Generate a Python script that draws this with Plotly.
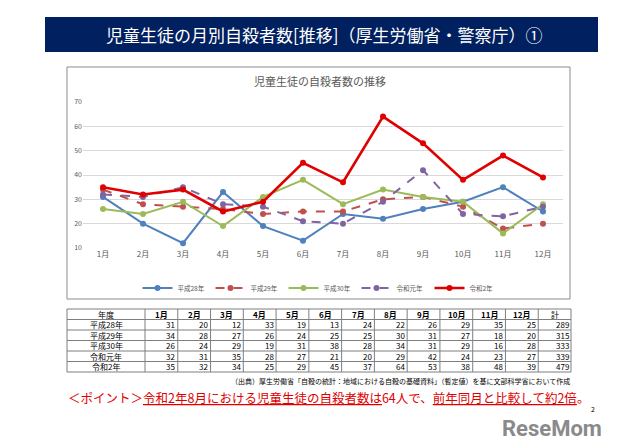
import plotly.graph_objects as go

months = ["1月", "2月", "3月", "4月", "5月", "6月", "7月", "8月", "9月", "10月", "11月", "12月"]
series_names = ["平成28年", "平成29年", "平成30年", "令和元年", "令和2年"]
h28 = [31, 20, 12, 33, 19, 13, 24, 22, 26, 29, 35, 25]
h29 = [34, 28, 27, 26, 24, 25, 25, 30, 31, 27, 18, 20]
h30 = [26, 24, 29, 19, 31, 38, 28, 34, 31, 29, 16, 28]
r1 = [32, 31, 35, 28, 27, 21, 20, 29, 42, 24, 23, 27]
r2 = [35, 32, 34, 25, 29, 45, 37, 64, 53, 38, 48, 39]
totals = [289, 315, 333, 339, 479]
y_ticks = [10, 20, 30, 40, 50, 60, 70]
table_header = ["年度"] + months + ["計"]

page_title = "児童生徒の月別自殺者数[推移]（厚生労働省・警察庁）①"
chart_title = "児童生徒の自殺者数の推移"
source_note = "（出典）厚生労働省「自殺の統計：地域における自殺の基礎資料」（暫定値）を基に文部科学省において作成"

values = [h28, h29, h30, r1, r2]
colors = ["#4F81BD", "#C0504D", "#9BBB59", "#8064A2", "#E00000"]
dashes = ["solid", "dash", "solid", "dash", "solid"]
widths = [2, 2, 2, 2, 2.6]

FONT = "Noto Sans CJK JP"
# page body has an 8px margin; figure drawn at page (8, 8)
OFF = 8
W, H = 640 - OFF, 447 - OFF
PL, PR, PT, PB = 83, 563, 102, 248  # plot area in page pixels
PW = PR - PL
PH = PB - PT
L = PL - OFF
T = PT - OFF
R = W - (PR - OFF)
B = H - (PB - OFF)


def fx(px):
    return (px - PL) / PW


def fy(py):
    return (PB - py) / PH


fig = go.Figure()
for name, vals, c, d, w in zip(series_names, values, colors, dashes, widths):
    fig.add_trace(go.Scatter(
        x=months, y=vals, name=name, mode="lines+markers",
        line=dict(color=c, dash=d, width=w),
        marker=dict(color=c, size=6),
    ))

shapes = []
annotations = []

# Title bar
shapes.append(dict(type="rect", xref="paper", yref="paper",
                   x0=fx(45), x1=fx(598), y0=fy(52), y1=fy(17),
                   fillcolor="#002060", line=dict(width=0), layer="below"))
annotations.append(dict(text=page_title, xref="paper", yref="paper",
                        x=fx(324), y=fy(35), xanchor="center", yanchor="middle",
                        showarrow=False, font=dict(family=FONT, size=17, color="white")))

# Chart box
shapes.append(dict(type="rect", xref="paper", yref="paper",
                   x0=fx(67), x1=fx(570), y0=fy(299), y1=fy(67),
                   fillcolor="rgba(0,0,0,0)", line=dict(color="#8C8C8C", width=1)))
annotations.append(dict(text=chart_title, xref="paper", yref="paper",
                        x=fx(320), y=fy(81), xanchor="center", yanchor="middle",
                        showarrow=False, font=dict(family=FONT, size=11, color="#595959")))

# Table
tl, tr, tt, tb = 67, 571, 309, 372
ncols = len(table_header)
col_w = (tr - 145) / (ncols - 1)
nrows = len(series_names) + 1
row_h = (tb - tt) / nrows
col_edges = [tl, 145] + [145 + col_w * (i + 1) for i in range(ncols - 1)]
for xe in col_edges:
    shapes.append(dict(type="line", xref="paper", yref="paper",
                       x0=fx(xe), x1=fx(xe), y0=fy(tt), y1=fy(tb),
                       line=dict(color="#7F7F7F", width=1)))
for r in range(nrows + 1):
    ye = tt + row_h * r
    shapes.append(dict(type="line", xref="paper", yref="paper",
                       x0=fx(tl), x1=fx(tr), y0=fy(ye), y1=fy(ye),
                       line=dict(color="#7F7F7F", width=1)))

for ci, htxt in enumerate(table_header):
    cx = (col_edges[ci] + col_edges[ci + 1]) / 2
    lbl = htxt if ci == 0 or ci == ncols - 1 else "<b>" + htxt + "</b>"
    annotations.append(dict(text=lbl, xref="paper", yref="paper",
                            x=fx(cx), y=fy(tt + row_h / 2), xanchor="center", yanchor="middle",
                            showarrow=False, borderpad=0,
                            font=dict(family=FONT, size=8, color="#000000")))
for ri, (name, vals, tot) in enumerate(zip(series_names, values, totals)):
    cy = tt + row_h * (ri + 1.5)
    annotations.append(dict(text=name, xref="paper", yref="paper",
                            x=fx((col_edges[0] + col_edges[1]) / 2), y=fy(cy),
                            xanchor="center", yanchor="middle", showarrow=False, borderpad=0,
                            font=dict(family=FONT, size=8, color="#000000")))
    for ci, v in enumerate(list(vals) + [tot]):
        annotations.append(dict(text=str(v), xref="paper", yref="paper",
                                x=fx(col_edges[ci + 2] - 1.5), y=fy(cy),
                                xanchor="right", yanchor="middle", showarrow=False, borderpad=0,
                                font=dict(family=FONT, size=8, color="#000000")))

# Source note
annotations.append(dict(text=source_note, xref="paper", yref="paper",
                        x=fx(571), y=fy(381), xanchor="right", yanchor="middle",
                        showarrow=False, borderpad=0,
                        font=dict(family=FONT, size=7, color="#000000")))

# Point text
point = ("＜ポイント＞<u>令和2年8月における児童生徒の自殺者数は</u>64人で、"
         "<u>前年同月と比較して約2倍</u>。")
annotations.append(dict(text=point, xref="paper", yref="paper",
                        x=fx(67), y=fy(397), xanchor="left", yanchor="middle",
                        showarrow=False, borderpad=0,
                        font=dict(family=FONT, size=12.5, color="#E00000")))

# Page number and logo
annotations.append(dict(text="2", xref="paper", yref="paper",
                        x=fx(593), y=fy(409), xanchor="center", yanchor="middle",
                        showarrow=False, borderpad=0,
                        font=dict(family=FONT, size=7, color="#000000")))
annotations.append(dict(text="<b>ReseMom</b>", xref="paper", yref="paper",
                        x=fx(603), y=fy(428), xanchor="right", yanchor="middle",
                        showarrow=False, borderpad=0,
                        font=dict(family="Roboto", size=22, color="#8A8A8A")))

fig.update_layout(
    width=W, height=H,
    margin=dict(l=L, r=R, t=T, b=B, autoexpand=False),
    paper_bgcolor="white", plot_bgcolor="white",
    font=dict(family=FONT, color="#595959"),
    showlegend=True,
    legend=dict(orientation="h", x=fx(320), y=fy(288), xanchor="center", yanchor="middle",
                font=dict(family=FONT, size=6.5, color="#595959"),
                itemwidth=30, entrywidth=28, entrywidthmode="pixels",
                bgcolor="rgba(0,0,0,0)"),
    xaxis=dict(type="category", range=[-0.5, 11.5], showgrid=False, showline=False,
               zeroline=False, ticks="", tickfont=dict(size=8, color="#595959")),
    yaxis=dict(range=[10, 70], tickvals=y_ticks, showgrid=True, gridcolor="#D9D9D9",
               gridwidth=1, zeroline=False, showline=False, ticks="",
               tickfont=dict(size=7, color="#595959")),
    shapes=shapes, annotations=annotations,
)

fig.write_html("out.html")
